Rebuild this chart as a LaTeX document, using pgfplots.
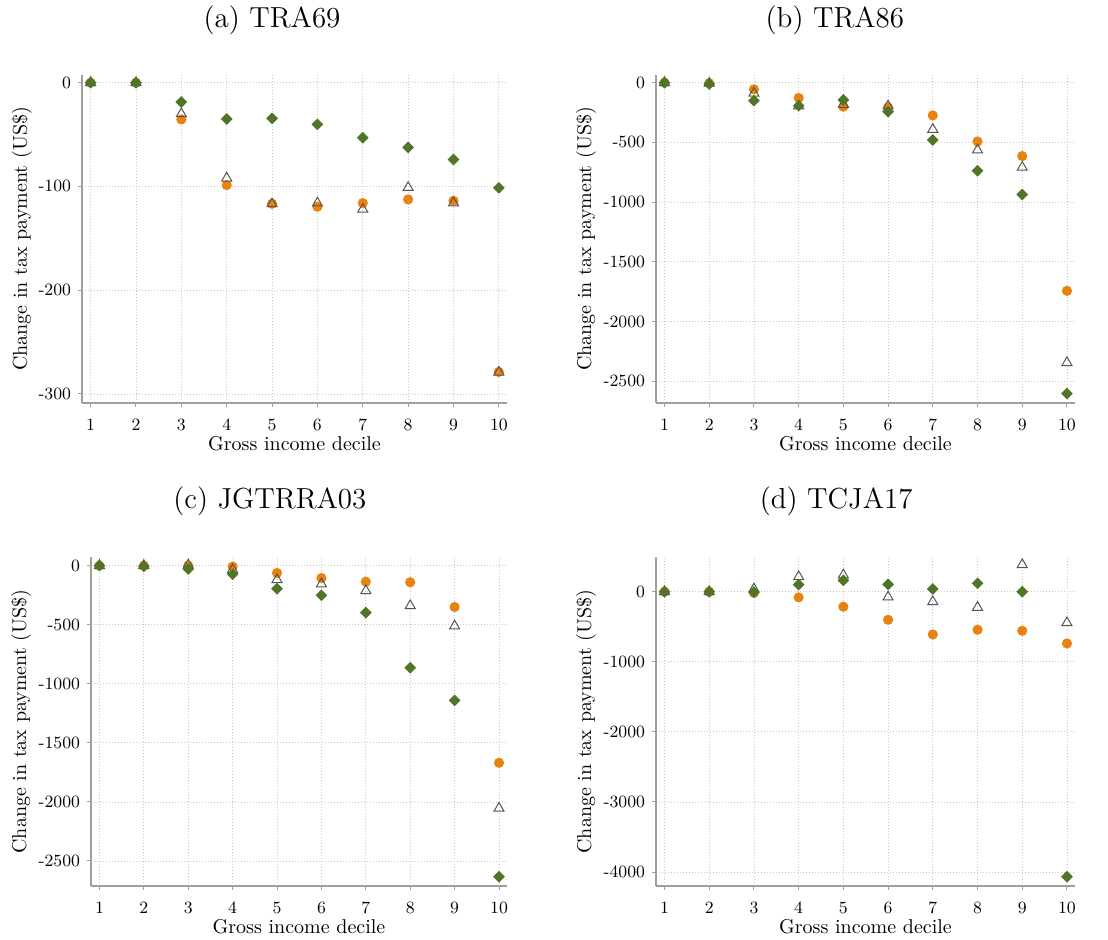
\documentclass[border=0pt]{standalone}
\usepackage{pgfplots}
\usepackage{pgfplotstable}
\pgfplotsset{compat=1.18}
\definecolor{myorange}{HTML}{E8830F}
\definecolor{mygreen}{HTML}{4F7628}
\definecolor{mygray}{HTML}{555555}

\pgfplotstableread{
x orange tri green
1 0 0 0
2 0 0 0
3 -35.4 -30 -18.6
4 -98.7 -92 -35
5 -116.7 -116.7 -34.4
6 -119.6 -116 -40.2
7 -116 -122 -53
8 -112.5 -101 -62.4
9 -113.8 -116 -74
10 -278.8 -279 -101.3
}\tabA
\pgfplotstableread{
x orange tri green
1 0 0 0
2 -5 -5 -11
3 -56 -89 -151
4 -128 -196 -193
5 -201 -182 -145
6 -207 -196 -243
7 -274 -391 -480
8 -492 -564 -737
9 -615 -709 -936
10 -1743 -2344 -2603
}\tabB
\pgfplotstableread{
x orange tri green
1 0 0 0
2 0 0 -6
3 0 5 -28
4 -8 -34 -73
5 -62 -119 -195
6 -105 -155 -251
7 -136 -212 -398
8 -141 -339 -864
9 -350 -511 -1141
10 -1669 -2054 -2633
}\tabC
\pgfplotstableread{
x orange tri green
1 0 0 0
2 0 0 0
3 -19 38 -5
4 -81 214 100
5 -214 238 162
6 -400 -76 105
7 -610 -143 38
8 -543 -224 119
9 -557 386 0
10 -738 -443 -4067
}\tabD

\pgfplotsset{
  every axis title shift=0pt,
  panel/.style={
    scale only axis, anchor=south west, clip=false,
    axis x line*=bottom, axis y line*=left,
    axis line style={-, draw=black!38, line width=0.6pt},
    xmin=0.81, xmax=10.18,
    xtick={1,...,10},
    tick align=outside, major tick length=2pt,
    tick style={black!38, line width=0.5pt},
    grid=major,
    grid style={black!22, line width=0.4pt, dash pattern=on 0.5pt off 1pt},
    scaled y ticks=false,
    /pgf/number format/assume math mode=true,
    /pgf/number format/1000 sep={},
    tick label style={font=\fontsize{8.6}{10}\selectfont},
    xticklabel style={anchor=base, yshift=-11.5pt},
    xlabel={Gross income decile},
    ylabel={Change in tax payment (US\$)},
    label style={font=\fontsize{10}{12}\selectfont},
    xlabel style={at={(axis description cs:0.5,0)}, anchor=base, yshift=-23.5pt},
    title style={anchor=base, font=\fontsize{14.5}{17}\selectfont},
  },
  orangeplot/.style={only marks, mark=*, mark size=2.33pt, color=myorange},
  triplot/.style={only marks, mark=triangle, mark size=2.9pt, color=mygray, mark options={line width=0.5pt}},
  greenplot/.style={only marks, mark=square*, mark size=1.87pt, color=mygreen, mark options={rotate=45}},
}

\begin{document}
\begin{tikzpicture}
\useasboundingbox (0,0) rectangle (554pt,-469.5pt);

% (a)
\begin{axis}[panel, at={(41pt,-201.5pt)}, width=212.5pt, height=164pt,
  ymin=-308.7, ymax=7.4, ytick={0,-100,-200,-300},
  title={(a) TRA69}, title style={at={(axis description cs:0.447,1.146)}},
  ylabel style={at={(axis description cs:-0.1412,0.5)}, anchor=center}]
\addplot[orangeplot] table[x=x,y=orange]{\tabA};
\addplot[triplot] table[x=x,y=tri]{\tabA};
\addplot[greenplot] table[x=x,y=green]{\tabA};
\end{axis}

% (b)
\begin{axis}[panel, at={(328pt,-201.5pt)}, width=209.5pt, height=164pt,
  ymin=-2682, ymax=64, ytick={0,-500,-1000,-1500,-2000,-2500},
  title={(b) TRA86}, title style={at={(axis description cs:0.427,1.146)}},
  ylabel style={at={(axis description cs:-0.167,0.5)}, anchor=center}]
\addplot[orangeplot] table[x=x,y=orange]{\tabB};
\addplot[triplot] table[x=x,y=tri]{\tabB};
\addplot[greenplot] table[x=x,y=green]{\tabB};
\end{axis}

% (c)
\begin{axis}[panel, at={(45.5pt,-443pt)}, width=208pt, height=164.5pt,
  ymin=-2712, ymax=73, ytick={0,-500,-1000,-1500,-2000,-2500},
  title={(c) JGTRRA03}, title style={at={(axis description cs:0.43,1.146)}},
  ylabel style={at={(axis description cs:-0.168,0.5)}, anchor=center}]
\addplot[orangeplot] table[x=x,y=orange]{\tabC};
\addplot[triplot] table[x=x,y=tri]{\tabC};
\addplot[greenplot] table[x=x,y=green]{\tabC};
\end{axis}

% (d)
\begin{axis}[panel, at={(328pt,-443pt)}, width=209.5pt, height=164.5pt,
  ymin=-4200, ymax=495, ytick={0,-1000,-2000,-3000,-4000},
  title={(d) TCJA17}, title style={at={(axis description cs:0.43,1.146)}},
  ylabel style={at={(axis description cs:-0.167,0.5)}, anchor=center}]
\addplot[orangeplot] table[x=x,y=orange]{\tabD};
\addplot[triplot] table[x=x,y=tri]{\tabD};
\addplot[greenplot] table[x=x,y=green]{\tabD};
\end{axis}
\end{tikzpicture}
\end{document}
